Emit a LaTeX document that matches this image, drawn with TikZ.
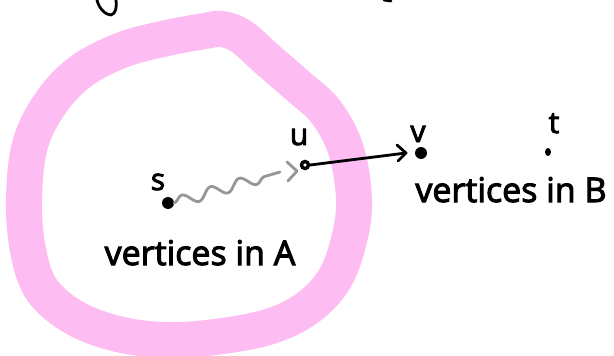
\documentclass[tikz,border=0pt]{standalone}
\usepackage{fontspec}
\setmainfont{Open Sans}
\newfontfamily\hand{Open Sans}[FakeBold=3]
\usetikzlibrary{decorations.pathmorphing,arrows.meta,shapes.geometric}
\definecolor{ringpink}{RGB}{253,188,242}
\definecolor{pathgrey}{RGB}{150,150,150}
\begin{document}
\begin{tikzpicture}[x=1pt,y=-1pt,
  ring/.style={draw=ringpink, line width=36pt, line join=round},
  bigdot/.style={circle, fill=black, inner sep=0pt, minimum size=12pt},
  smalldot/.style={ellipse, fill=black, inner sep=0pt, minimum width=6pt, minimum height=8pt},
  opendot/.style={circle, draw=black, fill=white, line width=3.4pt, inner sep=0pt, minimum size=7pt},
  lbl/.style={font=\hand\fontsize{30}{30}\selectfont, anchor=base, inner sep=0pt},
  bigtext/.style={font=\hand\fontsize{34}{34}\selectfont, anchor=base, inner sep=0pt},
  wavy/.style={draw=pathgrey, line width=2.8pt, line cap=round, decorate,
    decoration={snake, amplitude=5.5pt, segment length=30pt, post length=6pt}},
  chev/.style={line width=2.8pt, line cap=round, line join=round},
  ink/.style={draw=black, line width=2.8pt, line cap=round, line join=round}
]
\useasboundingbox (0,0) rectangle (614,356);
\fill[white] (0,0) rectangle (614,356);
% pink ring
\draw[ring] plot[smooth cycle, tension=0.6] coordinates {
 (24,200) (30,145) (50,104) (80,72) (122,50) (167,38) (205,31) (222,29)
 (242,37) (268,60) (298,86) (326,112) (346,150) (354,200) (349,240)
 (334,280) (306,309) (268,327) (215,337) (165,340) (118,334) (75,318)
 (42,290) (28,250)};
% fragments of text above
\draw[ink] (97,0) .. controls (99,9) and (106,15) .. (111,15) .. controls (116,14) and (117,6) .. (116,0);
\draw[ink] (384,0) -- (391,1);
% vertices
\node[bigdot] (s) at (168,203) {};
\node[opendot] (u) at (305,165) {};
\node[bigdot] (v) at (421,153) {};
\node[smalldot] (t) at (548,152) {};
% labels
\node[lbl] (ls) at (158,190) {s};
\node[lbl] (lu) at (299,145) {u};
\node[lbl] (lv) at (418,142) {v};
\node[lbl] (lt) at (554,133) {t};
\node[bigtext] (ta) at (200,265) {vertices in A};
\node[bigtext] (tb) at (511,202) {vertices in B};
% wavy path from s to u
\coordinate (wend) at (297,171);
\draw[wavy] (s.east) -- (280,172);
\draw[chev, pathgrey] (287,162) -- (wend) -- (288,181);
% edge u -> v
\coordinate (vtip) at (406,153);
\draw[ink] (u.east) -- (vtip);
\draw[chev] (397,145) -- (vtip) -- (398,161);
\end{tikzpicture}
\end{document}
